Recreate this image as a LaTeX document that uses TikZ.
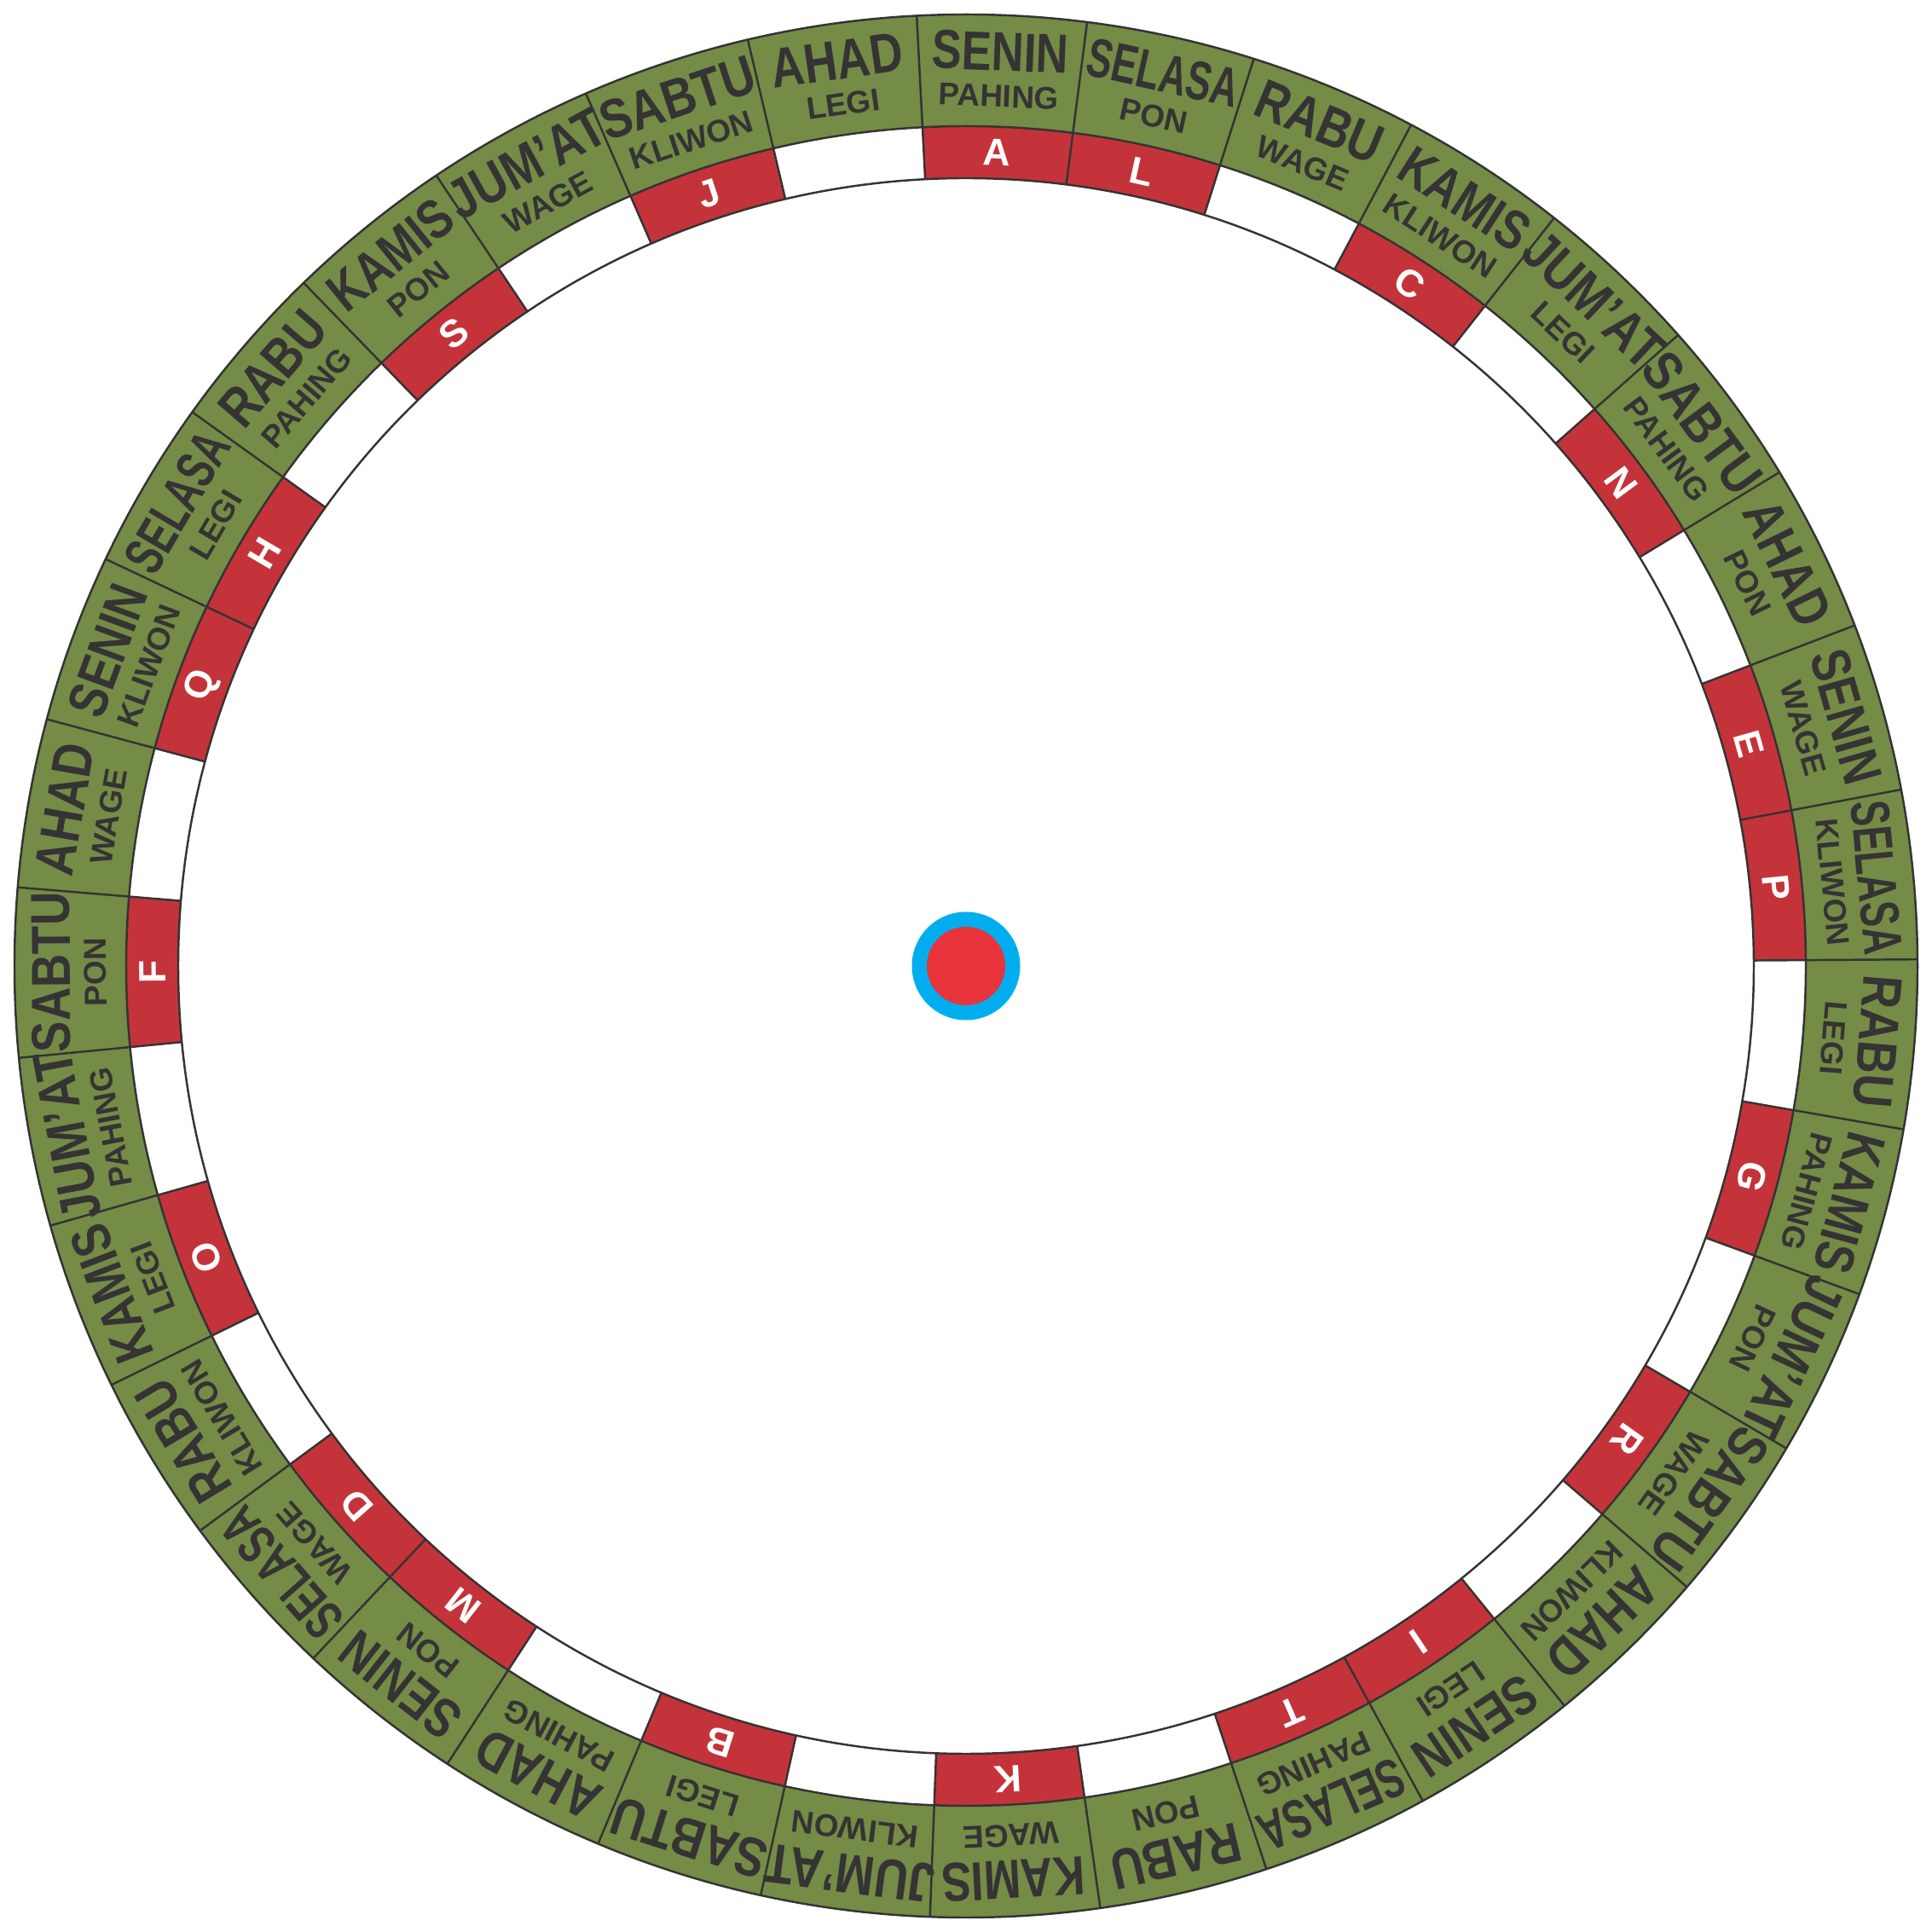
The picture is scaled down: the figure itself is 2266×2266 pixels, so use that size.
\documentclass[tikz,border=0pt]{standalone}
\usepackage{fontspec}
\setmainfont{Liberation Sans}
\usepackage{graphicx}
\definecolor{ringgreen}{HTML}{748C46}
\definecolor{cellred}{HTML}{C5333A}
\definecolor{txt}{HTML}{353334}
\definecolor{dotblue}{HTML}{00AEEF}
\definecolor{dotred}{HTML}{E8343A}
\tikzset{
  ringline/.style={draw=txt,line width=0.7pt},
  daytext/.style={text=txt,inner sep=0pt,anchor=center},
  pastext/.style={text=txt,inner sep=0pt,anchor=center,font=\fontsize{10.5}{12}\selectfont\bfseries},
  lettext/.style={text=white,inner sep=0pt,anchor=center,font=\fontsize{12.7}{14}\selectfont\bfseries},
}
\begin{document}
\begin{tikzpicture}[x=0.01cm,y=0.01cm]
\useasboundingbox (0,0) rectangle (2266,2266);
\fill[white] (0,0) rectangle (2266,2266);
\coordinate (O) at (1133,1133);
\begin{scope}[shift={(O)}]
  % green outer ring
  \fill[ringgreen,even odd rule] (0,0) circle (1116) (0,0) circle (985);
  % red cells
  \foreach \i/\lt in {0/A,1/L,3/C,5/N,7/E,8/P,10/G,12/R,14/I,15/T,17/K,19/B,21/M,22/D,24/O,26/F,28/Q,29/H,31/S,33/J}{
    \pgfmathsetmacro\th{0.4+(8.5-\i)*360/35}
    \pgfmathsetmacro\aa{\th-180/35}
    \pgfmathsetmacro\ab{\th+180/35}
    \fill[cellred] (\aa:924) arc[start angle=\aa,end angle=\ab,radius=924]
       -- (\ab:985) arc[start angle=\ab,end angle=\aa,radius=985] -- cycle;
    \node[lettext,rotate=\th-90] (l\i) at (\th:954.5) {\lt};
  }
  % circles
  \draw[ringline] (0,0) circle (1116);
  \draw[ringline] (0,0) circle (985);
  \draw[ringline] (0,0) circle (924);
  % radial boundaries
  \foreach \k in {0,...,34}{
    \pgfmathsetmacro\bd{0.4+\k*360/35}
    \draw[ringline] (\bd:924) -- (\bd:1116);
  }
  % day and pasaran labels
  \foreach \dn/\pn/\dw [count=\i from 0] in {
    SENIN/PAHING/16, SELASA/PON/18, RABU/WAGE/15.5, KAMIS/KLIWON/16.8, JUM’AT/LEGI/20,
    SABTU/PAHING/18.8, AHAD/PON/15.5, SENIN/WAGE/16, SELASA/KLIWON/18, RABU/LEGI/15.5,
    KAMIS/PAHING/16.8, JUM’AT/PON/20, SABTU/WAGE/18.8, AHAD/KLIWON/15.5, SENIN/LEGI/16,
    SELASA/PAHING/18, RABU/PON/15.5, KAMIS/WAGE/16.8, JUM’AT/KLIWON/20, SABTU/LEGI/18.8,
    AHAD/PAHING/15.5, SENIN/PON/16, SELASA/WAGE/18, RABU/KLIWON/15.5, KAMIS/LEGI/16.8,
    JUM’AT/PAHING/20, SABTU/PON/18.8, AHAD/WAGE/15.5, SENIN/KLIWON/16, SELASA/LEGI/18,
    RABU/PAHING/15.5, KAMIS/PON/16.8, JUM’AT/WAGE/20, SABTU/KLIWON/18.8, AHAD/LEGI/15.5}{
    \pgfmathsetmacro\th{0.4+(8.5-\i)*360/35}
    \node[daytext,rotate=\th-90] (d\i) at (\th:1073) {\resizebox{\dw mm}{4.5mm}{\bfseries\dn}};
    \node[pastext,rotate=\th-90] (p\i) at (\th:1021) {\pn};
  }
  % centre dot
  \fill[dotblue] (0,0) circle (63.5);
  \fill[dotred] (0,0) circle (46);
  \node[inner sep=0pt,minimum size=0pt] (centre) at (0,0) {};
\end{scope}
\end{tikzpicture}
\end{document}
